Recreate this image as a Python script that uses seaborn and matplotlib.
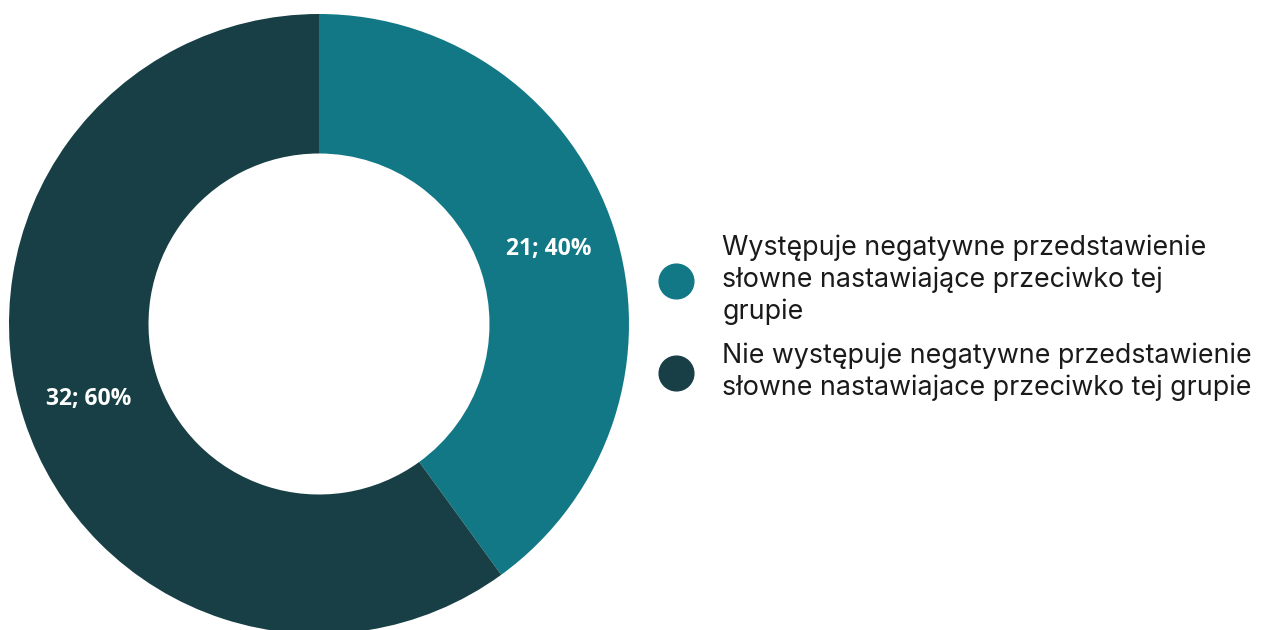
import matplotlib.pyplot as plt
import seaborn as sns
from matplotlib.lines import Line2D

categories = [
    "Występuje negatywne przedstawienie\nsłowne nastawiające przeciwko tej\ngrupie",
    "Nie występuje negatywne przedstawienie\nsłowne nastawiajace przeciwko tej grupie",
]
counts = [21, 32]
shares = [40, 60]
colors = ["#127886", "#173F45"]

sns.set_style("white")
plt.rcParams['font.family'] = ['Open Sans', 'DejaVu Sans']

fig = plt.figure(figsize=(12.67, 6.3), dpi=100)
# place the donut so it fills the left part, like the original
ax = fig.add_axes([9 / 1267, -4 / 630, 620 / 1267, 620 / 630])

labels_in = [f"{n}; {p}%" for n, p in zip(counts, shares)]
it = iter(labels_in)

wedges, texts, autotexts = ax.pie(
    shares,
    colors=colors,
    startangle=90,
    counterclock=False,
    radius=1.0,
    autopct=lambda pct: next(it),
    pctdistance=0.78,
    wedgeprops=dict(width=0.45, linewidth=0),
    textprops=dict(color="white", fontsize=16.5, fontweight="bold",
                   fontstretch="normal"),
)
ax.set_aspect("equal")
ax.set_xlim(-1, 1)
ax.set_ylim(-1, 1)
ax.axis("off")

# round legend markers
handles = [Line2D([], [], marker="o", linestyle="", markersize=25,
                  markerfacecolor=c, markeredgecolor=c) for c in colors]
fig.legend(
    handles, categories,
    loc="center left",
    bbox_to_anchor=(634 / 1267, 0.495),
    frameon=False,
    handlelength=1.3,
    handletextpad=1.1,
    labelspacing=0.65,
    labelcolor="#1a1a1a",
    prop=dict(family=['Inter', 'DejaVu Sans'], size=19.3),
)
for t in fig.legends[0].get_texts():
    t.set_linespacing(1.27)

fig.savefig("out.png", dpi=100)
